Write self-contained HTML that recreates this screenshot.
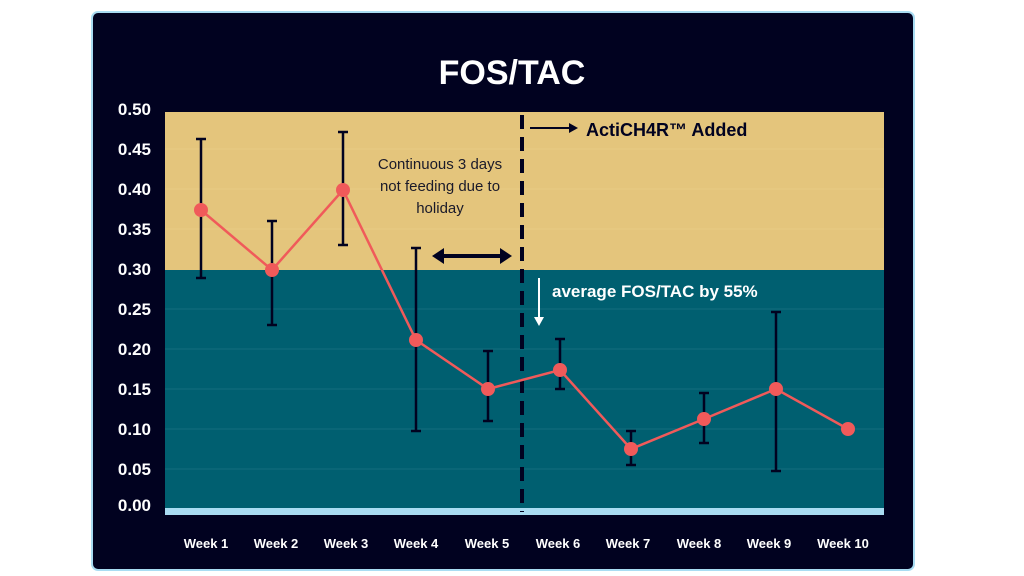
<!DOCTYPE html>
<html><head><style>
body{margin:0;background:#fff;width:1024px;height:576px;overflow:hidden}
svg{display:block;font-family:"Liberation Sans",sans-serif}
</style></head><body>
<svg width="1024" height="576" viewBox="0 0 1024 576">
<rect x="92" y="12" width="822" height="558" rx="6" fill="#010220" stroke="#a9dcf2" stroke-width="2"/>
<text x="512" y="84" fill="#fff" font-size="34" font-weight="bold" text-anchor="middle">FOS/TAC</text>
<rect x="165" y="112" width="719" height="158" fill="#e4c57c"/>
<rect x="165" y="270" width="719" height="238" fill="#005f70"/>
<rect x="165" y="508" width="719" height="7" fill="#a9dcf2"/>
<g stroke-width="1" opacity="0.35">
<line x1="165" x2="884" y1="149" y2="149" stroke="#f0d898"/>
<line x1="165" x2="884" y1="189" y2="189" stroke="#f0d898"/>
<line x1="165" x2="884" y1="229" y2="229" stroke="#f0d898"/>
<line x1="165" x2="884" y1="309" y2="309" stroke="#3a8a98"/>
<line x1="165" x2="884" y1="349" y2="349" stroke="#3a8a98"/>
<line x1="165" x2="884" y1="389" y2="389" stroke="#3a8a98"/>
<line x1="165" x2="884" y1="429" y2="429" stroke="#3a8a98"/>
<line x1="165" x2="884" y1="469" y2="469" stroke="#3a8a98"/>
</g>
<g fill="#fff" font-size="17" font-weight="bold" text-anchor="end">
<text x="151" y="115">0.50</text><text x="151" y="155">0.45</text><text x="151" y="195">0.40</text>
<text x="151" y="235">0.35</text><text x="151" y="275">0.30</text><text x="151" y="315">0.25</text>
<text x="151" y="355">0.20</text><text x="151" y="395">0.15</text><text x="151" y="435">0.10</text>
<text x="151" y="475">0.05</text><text x="151" y="511">0.00</text>
</g>
<g fill="#fff" font-size="13" font-weight="bold" text-anchor="middle">
<text x="206" y="548">Week 1</text><text x="276" y="548">Week 2</text><text x="346" y="548">Week 3</text>
<text x="416" y="548">Week 4</text><text x="487" y="548">Week 5</text><text x="558" y="548">Week 6</text>
<text x="628" y="548">Week 7</text><text x="699" y="548">Week 8</text><text x="769" y="548">Week 9</text>
<text x="843" y="548">Week 10</text>
</g>
<line x1="522" y1="115" x2="522" y2="512" stroke="#010220" stroke-width="4" stroke-dasharray="14,8"/>
<polyline points="201,210 272,270 343,190 416,340 488,389 560,370 631,449 704,419 776,389 848,429" fill="none" stroke="#f05a5a" stroke-width="2.5"/>
<g stroke="#010220" stroke-width="2.5">
<line x1="201" y1="139" x2="201" y2="278"/><line x1="196" y1="139" x2="206" y2="139"/><line x1="196" y1="278" x2="206" y2="278"/>
<line x1="272" y1="221" x2="272" y2="325"/><line x1="267" y1="221" x2="277" y2="221"/><line x1="267" y1="325" x2="277" y2="325"/>
<line x1="343" y1="132" x2="343" y2="245"/><line x1="338" y1="132" x2="348" y2="132"/><line x1="338" y1="245" x2="348" y2="245"/>
<line x1="416" y1="248" x2="416" y2="431"/><line x1="411" y1="248" x2="421" y2="248"/><line x1="411" y1="431" x2="421" y2="431"/>
<line x1="488" y1="351" x2="488" y2="421"/><line x1="483" y1="351" x2="493" y2="351"/><line x1="483" y1="421" x2="493" y2="421"/>
<line x1="560" y1="339" x2="560" y2="389"/><line x1="555" y1="339" x2="565" y2="339"/><line x1="555" y1="389" x2="565" y2="389"/>
<line x1="631" y1="431" x2="631" y2="465"/><line x1="626" y1="431" x2="636" y2="431"/><line x1="626" y1="465" x2="636" y2="465"/>
<line x1="704" y1="393" x2="704" y2="443"/><line x1="699" y1="393" x2="709" y2="393"/><line x1="699" y1="443" x2="709" y2="443"/>
<line x1="776" y1="312" x2="776" y2="471"/><line x1="771" y1="312" x2="781" y2="312"/><line x1="771" y1="471" x2="781" y2="471"/>
</g>
<g fill="#f05a5a">
<circle cx="201" cy="210" r="7"/><circle cx="272" cy="270" r="7"/><circle cx="343" cy="190" r="7"/>
<circle cx="416" cy="340" r="7"/><circle cx="488" cy="389" r="7"/><circle cx="560" cy="370" r="7"/>
<circle cx="631" cy="449" r="7"/><circle cx="704" cy="419" r="7"/><circle cx="776" cy="389" r="7"/>
<circle cx="848" cy="429" r="7"/>
</g>
<g fill="#1a1a2a" font-size="15" text-anchor="middle">
<text x="440" y="169">Continuous 3 days</text><text x="440" y="191">not feeding due to</text><text x="440" y="213">holiday</text>
</g>
<g stroke="#010220" stroke-width="4"><line x1="440" y1="256" x2="504" y2="256"/></g>
<polygon points="432,256 444,248 444,264" fill="#010220"/><polygon points="512,256 500,248 500,264" fill="#010220"/>
<line x1="530" y1="128" x2="572" y2="128" stroke="#010220" stroke-width="2"/>
<polygon points="578,128 569,123 569,133" fill="#010220"/>
<text x="586" y="136" fill="#010220" font-size="18" font-weight="bold">ActiCH4R™ Added</text>
<line x1="539" y1="278" x2="539" y2="320" stroke="#fff" stroke-width="2"/>
<polygon points="539,326 534,317 544,317" fill="#fff"/>
<text x="552" y="297" fill="#fff" font-size="17" font-weight="bold">average FOS/TAC by 55%</text>
</svg>
</body></html>
